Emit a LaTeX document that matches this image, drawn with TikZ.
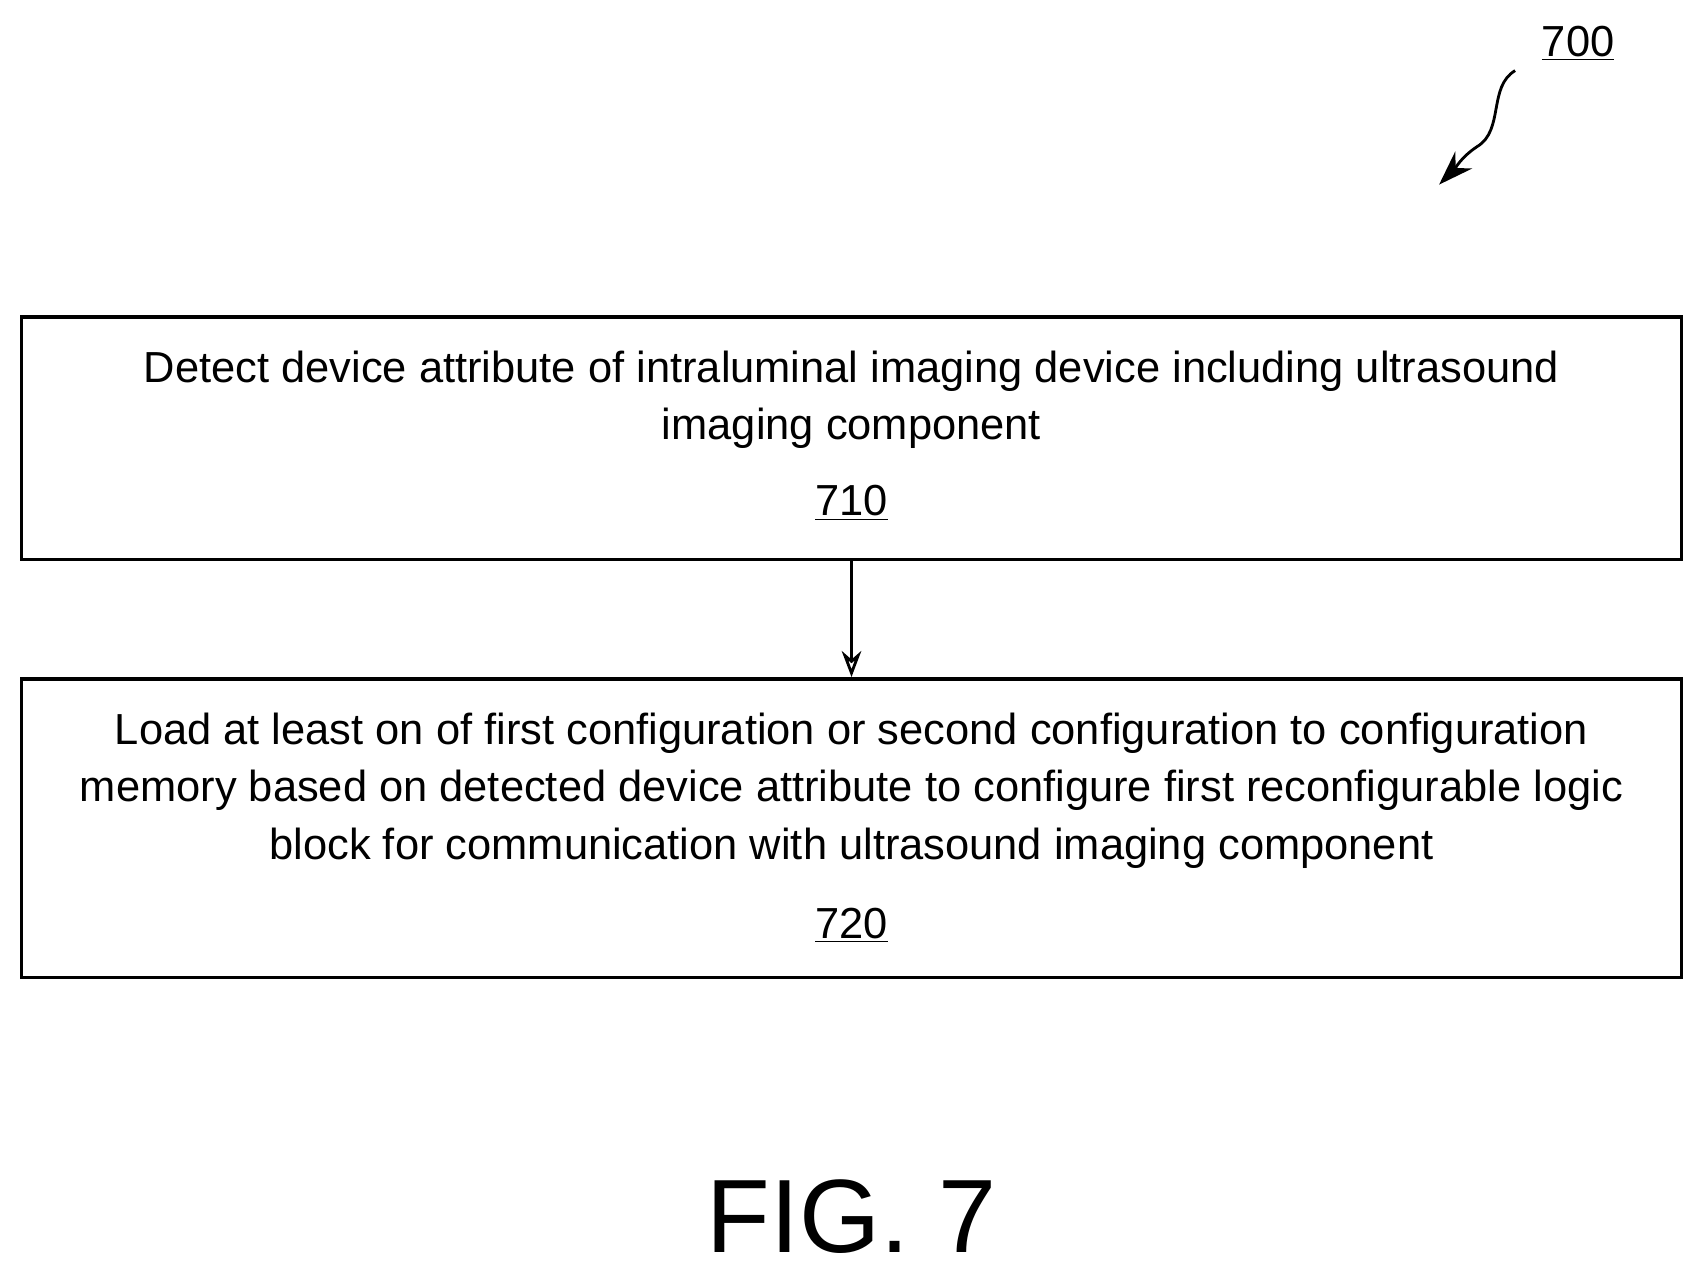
\documentclass[tikz,border=0pt]{standalone}
\usepackage{fontspec}
\usetikzlibrary{arrows.meta}
\setmainfont{Liberation Sans}
\begin{document}
\begin{tikzpicture}[x=0.5pt,y=-0.5pt,
  box/.style={draw,line width=1.6pt,inner sep=0pt,minimum width=764pt},
  txt/.style={font=\fontsize{20}{26.5}\selectfont,align=center},
  lab/.style={font=\fontsize{20}{20}\selectfont}]
\useasboundingbox (0,0) rectangle (1568,1176);
\node[box,minimum height=111.5pt] (b1) at (784,403.5) {};
\node[box,minimum height=137.5pt] (b2) at (784,762.5) {};
\node[txt] (t1) at (784,368) {Detect device attribute of intraluminal imaging device including ultrasound\\ imaging component};
\node[lab] (n1) at (784,463) {\underline{710}};
\node[txt] (t2) at (784,728) {Load at least on of first configuration or second configuration to configuration\\ memory based on detected device attribute to configure first reconfigurable logic\\ block for communication with ultrasound imaging component};
\node[lab] (n2) at (784,852) {\underline{720}};
\draw[line width=1.3pt,-{Stealth[length=12pt,width=9pt,open]}] (b1) -- (b2);
\node[lab] (n700) at (1453,40) {\underline{700}};
\coordinate (s0) at (1395,65);
\coordinate (s1) at (1325,170);
\draw[line width=1.3pt,-{Stealth[length=16pt,width=11pt]}] (s0) .. controls (1370,80) and (1385,120) .. (1360,135) .. controls (1345,145) and (1340,155) .. (s1);
\node[font=\fontsize{48}{48}\selectfont] (fig) at (784,1120) {FIG. 7};
\end{tikzpicture}
\end{document}
